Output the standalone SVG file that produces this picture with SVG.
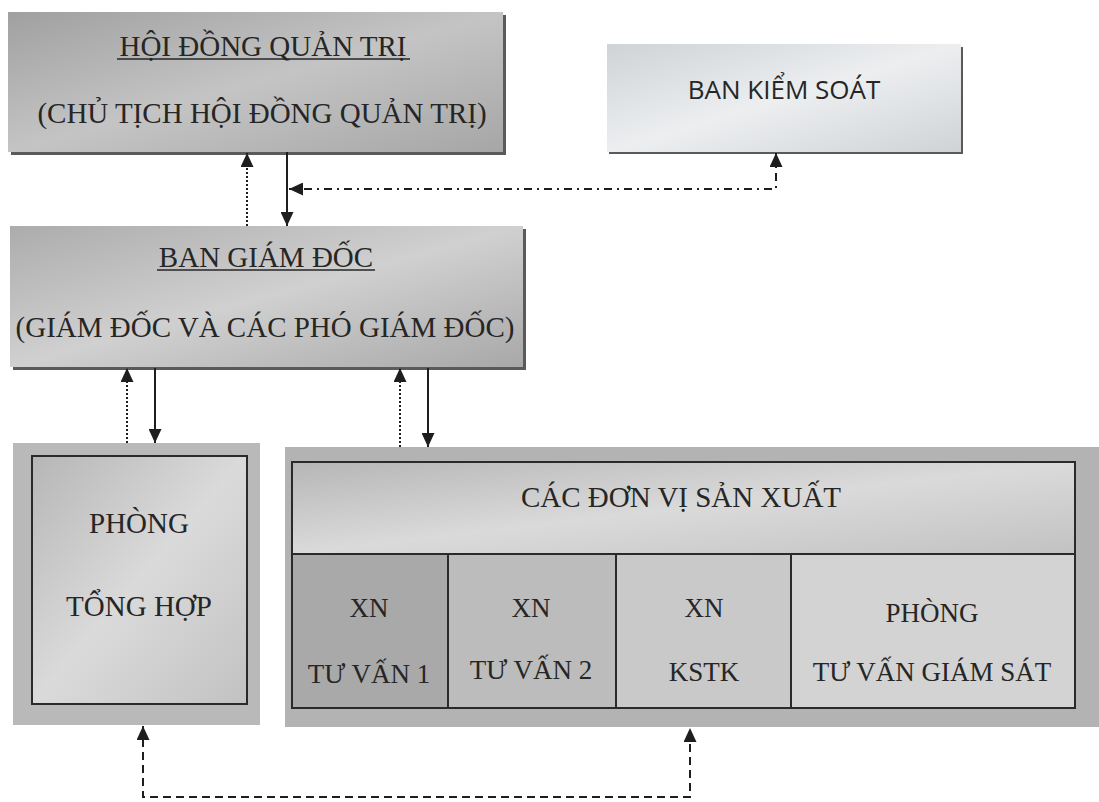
<svg xmlns="http://www.w3.org/2000/svg" width="1099" height="802" viewBox="0 0 1099 802">
<defs>
<linearGradient id="gDark" x1="0" y1="0" x2="1" y2="1">
<stop offset="0" stop-color="#a0a0a0"/><stop offset="0.5" stop-color="#c4c4c4"/><stop offset="1" stop-color="#a6a6a6"/>
</linearGradient>
<linearGradient id="gMid" x1="0" y1="0" x2="1" y2="1">
<stop offset="0" stop-color="#acacac"/><stop offset="0.5" stop-color="#d0d0d0"/><stop offset="1" stop-color="#a8a8a8"/>
</linearGradient>
<linearGradient id="gLight" x1="0" y1="0" x2="1" y2="1">
<stop offset="0" stop-color="#cfd3d6"/><stop offset="0.5" stop-color="#eceef0"/><stop offset="1" stop-color="#d0d3d6"/>
</linearGradient>
<linearGradient id="gInner" x1="0" y1="0" x2="1" y2="1">
<stop offset="0" stop-color="#b6b6b6"/><stop offset="0.5" stop-color="#dadada"/><stop offset="1" stop-color="#c2c2c2"/>
</linearGradient>
<marker id="ah" viewBox="0 0 10 10" refX="10" refY="5" markerWidth="14" markerHeight="13" markerUnits="userSpaceOnUse" orient="auto-start-reverse" preserveAspectRatio="none">
<path d="M0,0 L10,5 L0,10 z" fill="#1e1e1e"/>
</marker>
<style>
.serif{font-family:"Liberation Serif","Times New Roman",serif;fill:#262626;text-anchor:middle}
.sans{font-family:"Open Sans","Liberation Sans",sans-serif;fill:#262626;text-anchor:middle}
.ul{stroke:#262626;stroke-width:1.5}
.frame{fill:none;stroke:#2a2a2a;stroke-width:2}
.shadow{fill:#5a5a5a}
.solid{fill:none;stroke:#1e1e1e;stroke-width:2}
.dotted{fill:none;stroke:#1e1e1e;stroke-width:2;stroke-dasharray:2 2}
.dashdot{fill:none;stroke:#1e1e1e;stroke-width:2;stroke-dasharray:8 5 2 5}
.dashed{fill:none;stroke:#1e1e1e;stroke-width:2;stroke-dasharray:8 5}
</style>
</defs>
<rect width="1099" height="802" fill="#ffffff"/>

<g id="hdqt">
<rect class="shadow" x="11" y="15" width="495" height="140"/>
<rect x="8" y="12" width="495" height="140" fill="url(#gDark)"/>
<text class="serif" x="263" y="56" font-size="29">HỘI ĐỒNG QUẢN TRỊ</text>
<line class="ul" x1="117" y1="59" x2="410" y2="59"/>
<text class="serif" x="262" y="123" font-size="29">(CHỦ TỊCH HỘI ĐỒNG QUẢN TRỊ)</text>
</g>

<g id="ban-kiem-soat">
<rect class="shadow" x="609" y="47" width="354" height="107"/>
<rect x="607" y="44" width="354" height="108" fill="url(#gLight)"/>
<text class="sans" x="784" y="99" font-size="26">BAN KIỂM SOÁT</text>
</g>

<g id="ban-giam-doc">
<rect class="shadow" x="13" y="229" width="513" height="141"/>
<rect x="10" y="226" width="513" height="141" fill="url(#gMid)"/>
<text class="serif" x="266" y="267" font-size="29">BAN GIÁM ĐỐC</text>
<line class="ul" x1="157" y1="270" x2="375" y2="270"/>
<text class="serif" x="265" y="337" font-size="29">(GIÁM ĐỐC VÀ CÁC PHÓ GIÁM ĐỐC)</text>
</g>

<g id="phong-tong-hop">
<rect x="13" y="443" width="247" height="282" fill="#b9b9b9"/>
<rect x="32" y="456" width="215" height="248" fill="url(#gInner)"/>
<rect class="frame" x="32" y="456" width="215" height="248"/>
<text class="serif" x="139" y="533" font-size="29">PHÒNG</text>
<text class="serif" x="139" y="616" font-size="29">TỔNG HỢP</text>
</g>

<g id="cac-don-vi-san-xuat">
<rect x="285" y="447" width="814" height="280" fill="#b3b3b3"/>
<rect x="292" y="462" width="783" height="92" fill="url(#gInner)"/>
<rect x="292" y="554" width="156" height="154" fill="#a9a9a9"/>
<rect x="448" y="554" width="168" height="154" fill="#bcbcbc"/>
<rect x="616" y="554" width="175" height="154" fill="#c9c9c9"/>
<rect x="791" y="554" width="284" height="154" fill="#d3d3d3"/>
<rect class="frame" x="292" y="462" width="783" height="246"/>
<line class="frame" x1="292" y1="554" x2="1075" y2="554"/>
<line class="frame" x1="448" y1="554" x2="448" y2="708"/>
<line class="frame" x1="616" y1="554" x2="616" y2="708"/>
<line class="frame" x1="791" y1="554" x2="791" y2="708"/>
<text class="serif" x="681" y="507" font-size="29">CÁC ĐƠN VỊ SẢN XUẤT</text>
<g id="xn-tu-van-1"><text class="serif" x="369" y="617" font-size="27">XN</text><text class="serif" x="369" y="683" font-size="27">TƯ VẤN 1</text></g>
<g id="xn-tu-van-2"><text class="serif" x="531" y="617" font-size="27">XN</text><text class="serif" x="531" y="679" font-size="27">TƯ VẤN 2</text></g>
<g id="xn-kstk"><text class="serif" x="704" y="617" font-size="27">XN</text><text class="serif" x="704" y="681" font-size="27">KSTK</text></g>
<g id="phong-tu-van-giam-sat"><text class="serif" x="932" y="622" font-size="27">PHÒNG</text><text class="serif" x="932" y="681" font-size="27">TƯ VẤN GIÁM SÁT</text></g>
</g>

<g id="connectors">
<line class="solid" x1="287" y1="152" x2="287" y2="226" marker-end="url(#ah)"/>
<line class="dotted" x1="247" y1="226" x2="247" y2="153" marker-end="url(#ah)"/>
<path class="dashdot" d="M776,153 L776,189 L289,189" marker-start="url(#ah)" marker-end="url(#ah)"/>
<line class="dotted" x1="127" y1="443" x2="127" y2="368" marker-end="url(#ah)"/>
<line class="solid" x1="155" y1="368" x2="155" y2="443" marker-end="url(#ah)"/>
<line class="dotted" x1="400" y1="447" x2="400" y2="368" marker-end="url(#ah)"/>
<line class="solid" x1="428" y1="368" x2="428" y2="447" marker-end="url(#ah)"/>
<path class="dashed" d="M143,726 L143,797 L690,797 L690,728" marker-start="url(#ah)" marker-end="url(#ah)"/>
</g>
</svg>
